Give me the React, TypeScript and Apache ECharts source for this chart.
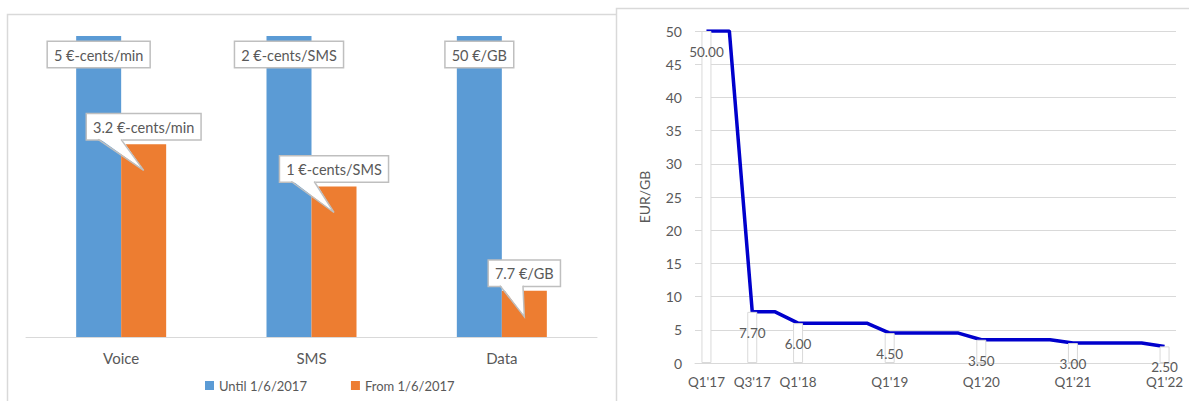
import React, { useEffect, useRef } from "react";
import * as echarts from "echarts";

// ---- Left chart data ----
const services = ["Voice", "SMS", "Data"];
const untilPrices = [5, 2, 50];
const fromPrices = [3.2, 1, 7.7];
const untilLabels = ["5 €-cents/min", "2 €-cents/SMS", "50 €/GB"];
const fromLabels = ["3.2 €-cents/min", "1 €-cents/SMS", "7.7 €/GB"];
const seriesNames = ["Until 1/6/2017", "From 1/6/2017"];

// ---- Right chart data ----
const quarters = [
  "Q1'17", "Q2'17", "Q3'17", "Q4'17",
  "Q1'18", "Q2'18", "Q3'18", "Q4'18",
  "Q1'19", "Q2'19", "Q3'19", "Q4'19",
  "Q1'20", "Q2'20", "Q3'20", "Q4'20",
  "Q1'21", "Q2'21", "Q3'21", "Q4'21",
  "Q1'22",
];
const quarterlyPrice = [
  50, 50, 7.7, 7.7,
  6, 6, 6, 6,
  4.5, 4.5, 4.5, 4.5,
  3.5, 3.5, 3.5, 3.5,
  3, 3, 3, 3,
  2.5,
];
const labelledQuarters = ["Q1'17", "Q3'17", "Q1'18", "Q1'19", "Q1'20", "Q1'21", "Q1'22"];
const yTicks = [0, 5, 10, 15, 20, 25, 30, 35, 40, 45, 50];

const FONT = "Lato";
const TXT = "#595959";
const GRID = "#d9d9d9";
const BOX = "#bfbfbf";
const BLUE = "#5B9BD5";
const ORANGE = "#ED7D31";
const BAR_W = 45;
const LABEL_FS = 14.5;
const PAD_X = 6;

export default function App() {
  const ref = useRef<HTMLDivElement>(null);
  useEffect(() => {
    if (!ref.current) return;
    const chart = echarts.init(ref.current, null, { renderer: "svg" });

    const untilPct = untilPrices.map(() => 100);
    const fromPct = fromPrices.map((v, i) => (v / untilPrices[i]) * 100);

    const boxLabel = {
      fontFamily: FONT,
      fontSize: LABEL_FS,
      color: TXT,
      backgroundColor: "#fff",
      borderColor: BOX,
      borderWidth: 1.5,
      padding: [5, PAD_X, 4, PAD_X],
      lineHeight: 16,
    };

    const option: any = {
      animation: false,
      textStyle: { fontFamily: FONT },
      grid: [
        { left: 26, top: 36, width: 571, height: 301 },
        { left: 695, top: 31, width: 481, height: 332 },
      ],
      legend: {
        data: seriesNames,
        left: 200,
        top: 374,
        itemWidth: 9,
        itemHeight: 9,
        itemGap: 44,
        icon: "rect",
        textStyle: { color: TXT, fontSize: 13, fontFamily: FONT },
      },
      xAxis: [
        {
          type: "category",
          gridIndex: 0,
          data: services,
          axisLine: { lineStyle: { color: GRID, width: 1 } },
          axisTick: { show: false },
          axisLabel: { color: TXT, fontSize: 15, margin: 13, fontFamily: FONT },
        },
        {
          type: "category",
          gridIndex: 1,
          data: quarters,
          boundaryGap: true,
          axisLine: { lineStyle: { color: GRID, width: 1 } },
          axisTick: { show: false },
          axisLabel: {
            color: TXT,
            fontSize: 13.5,
            margin: 12,
            fontFamily: FONT,
            interval: (_i: number, v: string) => labelledQuarters.includes(v),
          },
        },
      ],
      yAxis: [
        { type: "value", gridIndex: 0, min: 0, max: 100, show: false },
        {
          type: "value",
          gridIndex: 1,
          min: yTicks[0],
          max: yTicks[yTicks.length - 1],
          interval: 5,
          name: "EUR/GB",
          nameLocation: "middle",
          nameGap: 44,
          nameRotate: 90,
          nameTextStyle: { color: TXT, fontSize: 14, fontFamily: FONT },
          axisLine: { show: false },
          axisTick: { show: false },
          axisLabel: { color: TXT, fontSize: 14, margin: 13, fontFamily: FONT },
          splitLine: { lineStyle: { color: GRID, width: 1.2 } },
        },
      ],
      series: [
        {
          name: seriesNames[0],
          type: "bar",
          xAxisIndex: 0,
          yAxisIndex: 0,
          data: untilPct,
          barWidth: BAR_W,
          barGap: "0%",
          itemStyle: { color: BLUE },
          label: {
            show: true,
            position: "insideTop",
            distance: 6,
            formatter: (p: any) => untilLabels[p.dataIndex],
            ...boxLabel,
          },
        },
        {
          name: seriesNames[1],
          type: "bar",
          xAxisIndex: 0,
          yAxisIndex: 0,
          data: fromPct,
          barWidth: BAR_W,
          barGap: "0%",
          itemStyle: { color: ORANGE },
          label: {
            show: true,
            position: "top",
            distance: 5,
            formatter: (p: any) => fromLabels[p.dataIndex],
            ...boxLabel,
          },
        },
        {
          name: "price",
          type: "line",
          xAxisIndex: 1,
          yAxisIndex: 1,
          data: quarterlyPrice,
          symbol: "none",
          z: 2,
          lineStyle: { color: "#0000CC", width: 3.5 },
        },
        {
          name: "marks",
          type: "bar",
          xAxisIndex: 1,
          yAxisIndex: 1,
          z: 3,
          barWidth: 10,
          data: quarters.map((q, i) => (labelledQuarters.includes(q) ? quarterlyPrice[i] : "-")),
          itemStyle: { color: "#fff", borderColor: GRID, borderWidth: 1 },
          label: {
            show: true,
            position: "insideTop",
            distance: 14,
            color: TXT,
            fontSize: 13.5,
            fontFamily: FONT,
            formatter: (p: any) => Number(p.value).toFixed(2),
          },
        },
      ],
    };
    chart.setOption(option);

    // callout pointers for the "From" labels, derived from the bars' pixel positions
    const canvas = document.createElement("canvas");
    const ctx = canvas.getContext("2d")!;
    ctx.font = `${LABEL_FS}px ${FONT}`;
    const graphics: any[] = [
      {
        type: "polyline",
        silent: true,
        shape: { points: [[7.5, 401], [7.5, 14.5], [616, 14.5]] },
        style: { stroke: GRID, lineWidth: 1.5, fill: "none" },
      },
      {
        type: "polyline",
        silent: true,
        shape: { points: [[616.5, 401], [616.5, 8.5], [1189, 8.5]] },
        style: { stroke: GRID, lineWidth: 1.5, fill: "none" },
      },
    ];
    services.forEach((s, i) => {
      const catX = chart.convertToPixel({ xAxisIndex: 0 } as any, s) as number;
      const cx = catX + BAR_W / 2;
      const top = chart.convertToPixel({ yAxisIndex: 0 } as any, fromPct[i]) as number;
      const w = ctx.measureText(fromLabels[i]).width + PAD_X * 2;
      const left = cx - w / 2;
      const bottom = top - 5;
      const a = [left + 11, bottom];
      const b = [left + 34, bottom];
      const tip = [cx, top + 26];
      graphics.push({
        type: "polygon",
        z: 100,
        silent: true,
        shape: { points: [[a[0], a[1] - 1.5], [b[0], b[1] - 1.5], tip] },
        style: { fill: "#fff", stroke: "none" },
      });
      graphics.push({
        type: "polyline",
        z: 101,
        silent: true,
        shape: { points: [a, tip, b] },
        style: { stroke: BOX, lineWidth: 1.5, fill: "none" },
      });
    });
    chart.setOption({ graphic: graphics });

    return () => chart.dispose();
  }, []);
  return (
    <div
      ref={ref}
      style={{ position: "absolute", left: 0, top: 0, width: 1189, height: 401, background: "#fff" }}
    />
  );
}
